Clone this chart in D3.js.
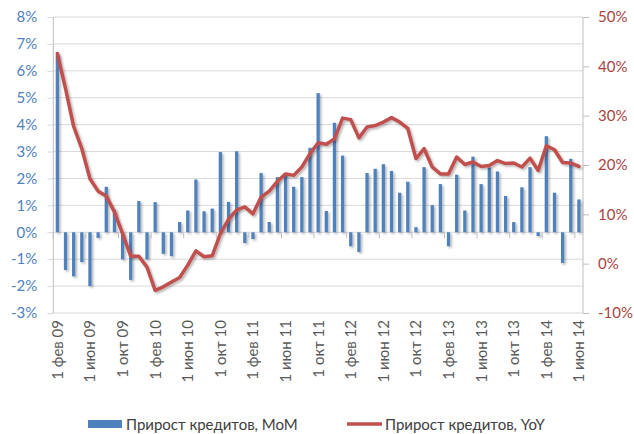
<!DOCTYPE html>
<html><head><meta charset="utf-8">
<script src="https://cdn.jsdelivr.net/npm/d3@7"></script>
<style>
html,body{margin:0;padding:0;background:#fff;}
text{font-family:Lato,"Open Sans","Noto Sans",sans-serif;}
</style></head>
<body><svg id="c" width="634" height="434"></svg>
<script>
// ---- DATA ----
const monthNames = ["янв","фев","мар","апр","май","июн","июл","авг","сен","окт","ноя","дек"];
// months Feb 2009 .. Jun 2014 (65 months)
const categories = [];
for (let y = 2009; y <= 2014; y++) for (let m = 0; m < 12; m++) {
  if ((y === 2009 && m < 1) || (y === 2014 && m > 5)) continue;
  categories.push("1 " + monthNames[m] + " " + String(y).slice(2));
}
const tickLabels = ["1 фев 09","1 июн 09","1 окт 09","1 фев 10","1 июн 10","1 окт 10","1 фев 11","1 июн 11","1 окт 11","1 фев 12","1 июн 12","1 окт 12","1 фев 13","1 июн 13","1 окт 13","1 фев 14","1 июн 14"];
// Прирост кредитов, MoM (%)
const mom = [6.6,-1.40,-1.64,-1.11,-2.00,-0.21,1.69,0.84,-1.01,-1.77,1.16,-1.01,1.12,-0.80,-0.89,0.38,0.81,1.96,0.78,0.88,
  2.98,1.13,3.01,-0.40,-0.25,2.20,0.38,2.05,2.20,1.69,2.05,3.14,5.17,0.79,4.07,2.85,-0.52,-0.73,2.20,2.36,2.53,2.28,1.47,
  1.88,0.19,2.42,1.01,1.79,-0.52,2.14,0.81,2.81,1.79,2.41,2.26,1.35,0.38,1.67,2.42,-0.14,3.57,1.47,-1.14,2.73,1.22];
// Прирост кредитов, YoY (%)
const yoy = [42.6,35.5,27.8,23.3,17.2,14.7,13.7,10.5,6.1,1.5,1.5,-0.7,-5.4,-4.7,-3.7,-2.8,-0.3,2.6,1.4,1.6,
  6.1,9.0,10.9,11.5,10.1,13.5,14.7,16.7,18.2,17.9,19.6,22.3,24.5,24.2,25.3,29.5,29.2,25.5,27.7,28.0,28.7,29.6,28.7,
  27.4,21.3,23.3,19.6,18.2,18.2,21.6,20.1,20.6,19.7,19.9,20.9,20.3,20.4,19.6,21.4,18.9,23.9,23.1,20.5,20.4,19.7];
const leftTicks = [-3,-2,-1,0,1,2,3,4,5,6,7,8];
const rightTicks = [-10,0,10,20,30,40,50];
const legendLabels = ["Прирост кредитов, MoM","Прирост кредитов, YoY"];

// ---- CHART ----
const svg = d3.select("#c");
const L = 53.3, R = 583, T = 17, B = 313;
const x = d3.scaleBand().domain(categories).range([L, R]).paddingInner(0.6).paddingOuter(0.3);
const yL = d3.scaleLinear().domain([-3, 8]).range([B, T]);
const yR = d3.scaleLinear().domain([-10, 50]).range([B, T]);
const blue = "#4F81BD", red = "#C0504D";

const defs = svg.append("defs");
const f = defs.append("filter").attr("id","sh").attr("x","-50%").attr("y","-50%").attr("width","200%").attr("height","200%");
f.append("feDropShadow").attr("dx",1.6).attr("dy",1.6).attr("stdDeviation",1.1).attr("flood-color","#000").attr("flood-opacity",0.3);

// gridlines
svg.append("g").selectAll("line").data(leftTicks).join("line")
  .attr("x1", L).attr("x2", R).attr("y1", d => yL(d)).attr("y2", d => yL(d))
  .attr("stroke", "#D9D9D9").attr("stroke-width", 1);

// left axis
const fmt = d => d + "%";
const ga = svg.append("g").attr("transform", `translate(${L},0)`)
  .call(d3.axisLeft(yL).tickValues(leftTicks).tickFormat(fmt).tickSize(6).tickPadding(10));
ga.select(".domain").attr("stroke", "#BFBFBF").attr("d", `M0,${T}V${B}`);
ga.selectAll(".tick line").attr("stroke", "#D9D9D9");
ga.selectAll(".tick text").attr("fill", blue).attr("font-size", 15).attr("font-family","Lato,sans-serif");

// right axis
const gr = svg.append("g").attr("transform", `translate(${R},0)`)
  .call(d3.axisRight(yR).tickValues(rightTicks).tickFormat(fmt).tickSize(6).tickPadding(9));
gr.select(".domain").attr("stroke", "#BFBFBF").attr("d", `M0,${T}V${B}`);
gr.selectAll(".tick line").attr("stroke", "#BFBFBF");
gr.selectAll(".tick text").attr("fill", "#A9443F").attr("font-size", 15).attr("font-family","Lato,sans-serif");

// bars
svg.append("g").attr("filter","url(#sh)").selectAll("rect").data(mom).join("rect")
  .attr("x", (d, i) => x(categories[i]))
  .attr("width", x.bandwidth())
  .attr("y", d => yL(Math.max(0, d)))
  .attr("height", d => Math.abs(yL(d) - yL(0)))
  .attr("fill", blue);

// category axis ticks at zero line
const step = x.step();
const tickIdx = categories.map((c, i) => i).filter(i => i % 4 === 0);
svg.append("g").selectAll("line").data(tickIdx).join("line")
  .attr("x1", i => x(categories[i]) - (step - x.bandwidth()) / 2)
  .attr("x2", i => x(categories[i]) - (step - x.bandwidth()) / 2)
  .attr("y1", yL(0)).attr("y2", yL(0) + 6)
  .attr("stroke", "#BFBFBF");

// category labels
svg.append("g").selectAll("text").data(tickIdx).join("text")
  .attr("transform", i => `translate(${x(categories[i]) + x.bandwidth() / 2 + 5.5},320) rotate(-90)`)
  .attr("text-anchor", "end")
  .attr("font-size", 15)
  .attr("fill", "#595959")
  .text((i, k) => tickLabels[k]);

// line
const line = d3.line().x((d, i) => x(categories[i]) + x.bandwidth() / 2).y(d => yR(d));
svg.append("path").datum(yoy).attr("d", line)
  .attr("fill", "none").attr("stroke", red).attr("stroke-width", 3.5)
  .attr("stroke-linejoin", "round").attr("stroke-linecap", "round")
  .attr("filter", "url(#sh)");

// legend
const lg = svg.append("g");
lg.append("rect").attr("x", 88).attr("y", 420).attr("width", 34).attr("height", 8).attr("fill", blue);
lg.append("text").attr("x", 126).attr("y", 429.5).attr("font-size", 15).attr("fill", "#404040").text(legendLabels[0]);
lg.append("line").attr("x1", 347).attr("x2", 382).attr("y1", 424).attr("y2", 424).attr("stroke", red).attr("stroke-width", 3.5);
lg.append("text").attr("x", 385).attr("y", 429.5).attr("font-size", 15).attr("fill", "#404040").text(legendLabels[1]);
</script></body></html>
